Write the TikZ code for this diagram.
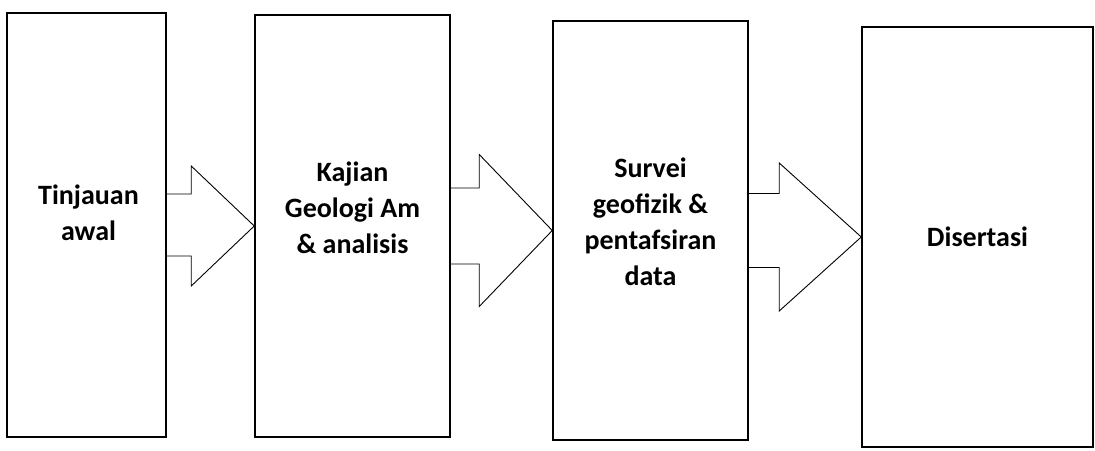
\documentclass[tikz,border=0pt]{standalone}
\usepackage{fontspec}
\setmainfont{Carlito}
\usetikzlibrary{calc}

\begin{document}
\begin{tikzpicture}
		[x=1pt,y=-1pt,
		tahap/.style={rectangle,draw,line width=1.5pt},
		teks/.style={align=center,font=\bfseries\fontsize{28}{36}\selectfont},
		blockarrow/.style={draw,line width=0.9pt,line join=miter}]
		\useasboundingbox (0,0) rectangle (1095,450);
		\node[tahap,minimum width=159pt,minimum height=424pt,name=b1] at (86.5,225) {};
		\node[tahap,minimum width=195pt,minimum height=422pt,name=b2] at (352.5,226) {};
		\node[tahap,minimum width=195pt,minimum height=419pt,name=b3] at (650.5,230.5) {};
		\node[tahap,minimum width=231pt,minimum height=420pt,name=b4] at (977.5,237) {};
		\node[teks,name=t1] at ($(b1)+(2,-12)$) {Tinjauan\\awal};
		\node[teks,name=t2] at ($(b2)+(0,-18)$) {Kajian\\Geologi Am\\\& analisis};
		\node[teks,name=t3] at ($(b3)+(0,-9)$) {Survei\\geofizik \&\\pentafsiran\\data};
		\node[teks,name=t4] at ($(b4)+(0,0)$) {Disertasi};
		% anak panah antara tahap
		\foreach \from/\to/\s/\w/\h in {b1/b2/31/60/63, b2/b3/38/76/73, b3/b4/37/74/82}
		{
			\draw[blockarrow] ($(\from.east)+(0,-\s)$) -| ($(\to.west)+(-\h,-\w)$)
				-- (\to.west) -- ($(\to.west)+(-\h,\w)$) |- ($(\from.east)+(0,\s)$);
		}
	\end{tikzpicture}
\end{document}
